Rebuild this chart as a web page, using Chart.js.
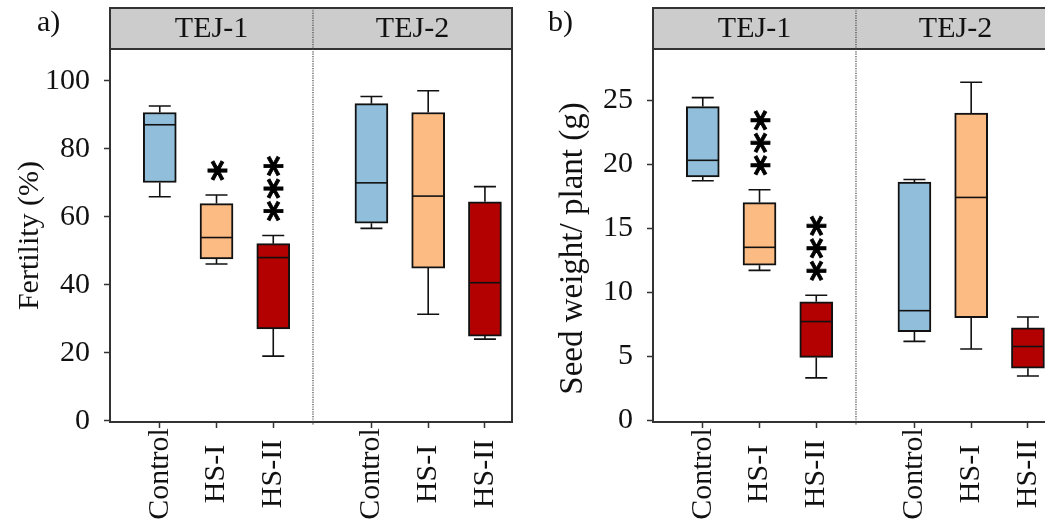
<!DOCTYPE html>
<html><head><meta charset="utf-8">
<script src="https://cdn.jsdelivr.net/npm/chart.js@4.4.1/dist/chart.umd.min.js"></script>
<style>
html,body{margin:0;padding:0;background:#fff;overflow:hidden;width:1045px;height:527px;position:relative;}
canvas{position:absolute;top:0;}
</style></head><body>
<canvas id="ca" width="522" height="527" style="left:0px"></canvas>
<canvas id="cb" width="522" height="527" style="left:543px"></canvas>
<script>
// ---- data ----
const genotypes = ['TEJ-1', 'TEJ-2'];
const treatments = ['Control', 'HS-I', 'HS-II'];
const fertTicks = [0, 20, 40, 60, 80, 100];
const seedTicks = [0, 5, 10, 15, 20, 25];
// order: TEJ-1 Control, HS-I, HS-II, TEJ-2 Control, HS-I, HS-II
const fertLow  = [65.9, 46.1, 19.0, 56.6, 31.3, 24.0];
const fertQ1   = [70.1, 47.6, 27.0, 58.1, 44.9, 24.9];
const fertMed  = [87.1, 53.9, 48.0, 70.0, 66.1, 40.6];
const fertQ3   = [90.7, 63.9, 52.1, 93.3, 90.7, 64.4];
const fertHigh = [92.6, 66.4, 54.5, 95.4, 97.1, 68.9];
const fertSig  = ['', '*', '***', '', '', ''];
const seedLow  = [18.7, 11.7, 3.3, 6.15, 5.55, 3.45];
const seedQ1   = [19.0, 12.1, 4.9, 6.9, 8.0, 4.05];
const seedMed  = [20.3, 13.5, 7.7, 8.55, 17.4, 5.75];
const seedQ3   = [24.5, 17.0, 9.25, 18.6, 24.0, 7.2];
const seedHigh = [25.2, 18.0, 9.75, 18.8, 26.4, 8.05];
const seedSig  = ['', '***', '***', '', '', ''];
const treatColors = ['#91bfdb', '#fdbb84', '#b30000'];

// ---- layout ----
const SERIF = '"Liberation Serif", "Times New Roman", serif';
const FACET_STEP = 3.73;   // x offset of second genotype group
const DIVIDER = 2.7;
const XMIN = -0.877, XMAX = 6.207;

function makePanel(id, panelLabel, labelX, yTitle, titleSize, titleDy, ticks, ymin, ymax, low, q1, med, q3, high, sig) {
  const pts = [];
  genotypes.forEach((g, gi) => treatments.forEach((t, ti) => pts.push({gi, ti, x: ti + gi * FACET_STEP})));
  const boxData = pts.map((p, i) => ({x: p.x, y: [q1[i], q3[i]]}));
  const bg = pts.map(p => treatColors[p.ti]);

  const boxPlugin = {
    id: 'boxparts',
    beforeDatasetsDraw(chart) {
      const ctx = chart.ctx, xs = chart.scales.x, ys = chart.scales.y;
      ctx.save();
      ctx.strokeStyle = '#111'; ctx.lineWidth = 1.6;
      pts.forEach((p, i) => {
        const px = xs.getPixelForValue(p.x);
        const yh = ys.getPixelForValue(high[i]), y3 = ys.getPixelForValue(q3[i]);
        const y1 = ys.getPixelForValue(q1[i]), yl = ys.getPixelForValue(low[i]);
        ctx.beginPath();
        ctx.moveTo(px, yh); ctx.lineTo(px, y3);
        ctx.moveTo(px, y1); ctx.lineTo(px, yl);
        ctx.moveTo(px - 11, yh); ctx.lineTo(px + 11, yh);
        ctx.moveTo(px - 11, yl); ctx.lineTo(px + 11, yl);
        ctx.stroke();
      });
      ctx.restore();
    },
    afterDatasetsDraw(chart) {
      const ctx = chart.ctx, xs = chart.scales.x, ys = chart.scales.y;
      ctx.save();
      ctx.strokeStyle = '#111'; ctx.lineWidth = 1.6;
      pts.forEach((p, i) => {
        const px = xs.getPixelForValue(p.x);
        const ym = ys.getPixelForValue(med[i]);
        ctx.beginPath(); ctx.moveTo(px - 15.5, ym); ctx.lineTo(px + 15.5, ym); ctx.stroke();
      });
      // significance stars, stacked vertically above the upper whisker
      ctx.font = 'bold 40px "DejaVu Sans", sans-serif';
      ctx.fillStyle = '#000';
      ctx.strokeStyle = '#000'; ctx.lineWidth = 0.8;
      ctx.textAlign = 'left'; ctx.textBaseline = 'alphabetic';
      const m = ctx.measureText('*');
      const c = (m.actualBoundingBoxAscent - m.actualBoundingBoxDescent) / 2;
      pts.forEach((p, i) => {
        if (!sig[i]) return;
        const px = xs.getPixelForValue(p.x);
        const yh = ys.getPixelForValue(high[i]);
        ctx.save();
        ctx.translate(px, yh);
        ctx.rotate(-Math.PI / 2);
        for (let k = 0; k < sig[i].length; k++) {
          const sx = 14 + m.actualBoundingBoxLeft + k * 22.5;
          ctx.fillText(sig[i][k], sx, c);
          ctx.strokeText(sig[i][k], sx, c);
        }
        ctx.restore();
      });
      ctx.restore();
    },
    afterDraw(chart) {
      const ctx = chart.ctx, xs = chart.scales.x;
      const {left, right, top, bottom} = chart.chartArea;
      const divPx = xs.getPixelForValue(DIVIDER);
      ctx.save();
      // right border
      ctx.strokeStyle = '#333'; ctx.lineWidth = 2;
      ctx.beginPath(); ctx.moveTo(right, top); ctx.lineTo(right, bottom + 1); ctx.stroke();
      // strip
      const sTop = 8;
      ctx.fillStyle = '#cccccc';
      ctx.fillRect(left, sTop, right - left, top - sTop);
      ctx.strokeRect(left, sTop, right - left, top - sTop);
      ctx.fillStyle = '#111';
      ctx.font = '30px ' + SERIF;
      ctx.textAlign = 'center'; ctx.textBaseline = 'middle';
      ctx.fillText(genotypes[0], (left + divPx) / 2, (sTop + top) / 2 + 1);
      ctx.fillText(genotypes[1], (divPx + right) / 2, (sTop + top) / 2 + 1);
      // dotted divider
      ctx.strokeStyle = '#444'; ctx.lineWidth = 1.2; ctx.setLineDash([1.2, 1.2]);
      ctx.beginPath(); ctx.moveTo(divPx, sTop); ctx.lineTo(divPx, bottom + 3); ctx.stroke();
      ctx.setLineDash([]);
      // category labels (rotated, centred)
      ctx.fillStyle = '#111';
      pts.forEach(p => {
        const px = xs.getPixelForValue(p.x);
        ctx.save();
        ctx.translate(px, bottom + 52);
        ctx.rotate(-Math.PI / 2);
        ctx.textAlign = 'center'; ctx.textBaseline = 'middle';
        ctx.fillText(treatments[p.ti], 0, 0);
        ctx.restore();
      });
      // y axis title
      ctx.save();
      ctx.font = titleSize + 'px ' + SERIF;
      ctx.translate(left - 80, (top + bottom) / 2 + titleDy);
      ctx.rotate(-Math.PI / 2);
      ctx.textAlign = 'center'; ctx.textBaseline = 'middle';
      ctx.fillText(yTitle, 0, 0);
      ctx.restore();
      // panel label
      ctx.font = '30px ' + SERIF;
      ctx.textAlign = 'left'; ctx.textBaseline = 'alphabetic';
      ctx.fillText(panelLabel, labelX, 31);
      ctx.restore();
    }
  };

  return new Chart(document.getElementById(id), {
    type: 'bar',
    data: {datasets: [{
      data: boxData, backgroundColor: bg, borderColor: '#111', borderWidth: 2,
      borderSkipped: false, barThickness: 33, grouped: false
    }]},
    options: {
      responsive: false, animation: false, devicePixelRatio: 1,
      layout: {padding: {top: 49, right: 10, left: 0, bottom: 0}},
      plugins: {legend: {display: false}, tooltip: {enabled: false}},
      scales: {
        x: {
          type: 'linear', min: XMIN, max: XMAX, offset: false,
          afterBuildTicks: s => { s.ticks = pts.map(p => ({value: p.x})); },
          afterFit: s => { s.height = 105; },
          ticks: {display: false},
          grid: {offset: false, drawOnChartArea: false, drawTicks: true, tickLength: 6, tickColor: '#333', tickWidth: 1.5},
          border: {display: true, color: '#333', width: 2}
        },
        y: {
          min: ymin, max: ymax,
          afterBuildTicks: s => { s.ticks = ticks.map(v => ({value: v})); },
          afterFit: s => { s.width = 110; },
          ticks: {font: {family: SERIF, size: 30}, color: '#111', padding: 14},
          grid: {drawOnChartArea: false, drawTicks: true, tickLength: 6, tickColor: '#333', tickWidth: 1.5},
          border: {display: true, color: '#333', width: 2},
          title: {display: false}
        }
      }
    },
    plugins: [boxPlugin]
  });
}

makePanel('ca', 'a)', 37, 'Fertility (%)', 30, 0, fertTicks, -0.4, 109.4,
  fertLow, fertQ1, fertMed, fertQ3, fertHigh, fertSig);
makePanel('cb', 'b)', 5, 'Seed weight/ plant (g)', 33, 13, seedTicks, -0.15, 29.0,
  seedLow, seedQ1, seedMed, seedQ3, seedHigh, seedSig);
</script>
</body></html>
